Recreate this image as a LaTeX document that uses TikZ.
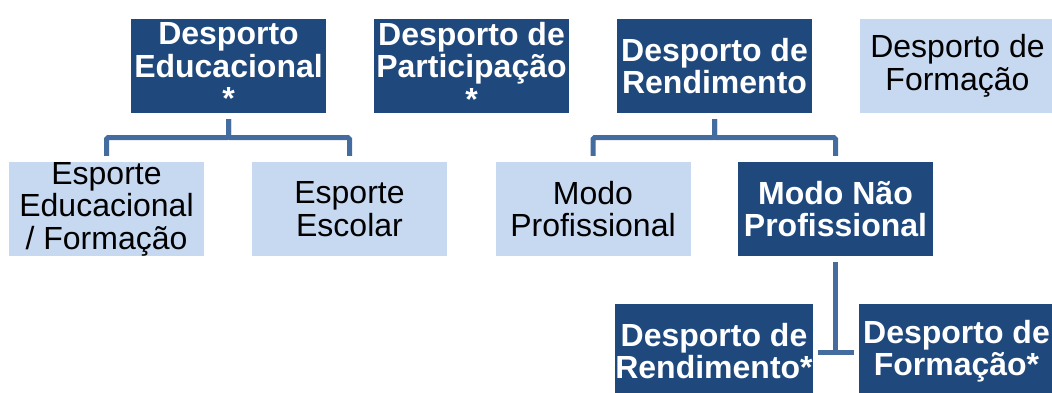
\documentclass[tikz,border=0pt]{standalone}
\usepackage{fontspec}
\setmainfont{Liberation Sans}
\definecolor{boxdark}{RGB}{31,73,125}
\definecolor{boxlight}{RGB}{198,217,241}
\definecolor{linkblue}{RGB}{68,108,158}
\tikzset{
  darkbox/.style={fill=boxdark, text=white, font=\fontsize{32}{32.5}\selectfont\bfseries,
    minimum width=195pt, minimum height=94pt, inner sep=0pt, align=center},
  lightbox/.style={fill=boxlight, text=black, font=\fontsize{32}{32.5}\selectfont,
    minimum width=195pt, minimum height=94pt, inner sep=0pt, align=center},
  link/.style={draw=linkblue, line width=5pt, rounded corners=1.5pt}
}

\begin{document}
\begin{tikzpicture}[x=1pt,y=-1pt]
				\useasboundingbox (0,0) rectangle (1052,392);
				\clip (0,0) rectangle (1052,392);
				
				% first row
				\node[darkbox] (edu) at (228.5,66) {Desporto\\Educacional\\*};
				\node[darkbox] (part) at (471.5,66) {Desporto de\\Participação\\*};
				\node[darkbox] (rend) at (714.5,66) {Desporto de\\Rendimento};
				\node[lightbox] (form) at (957.5,66) {Desporto de\\Formação};
				
				% second row
				\node[lightbox] (esped) at (106.5,209) {Esporte\\Educacional\\/ Formação};
				\node[lightbox] (escol) at (349.5,209) {Esporte\\Escolar};
				\node[lightbox] (prof) at (593,209) {Modo\\Profissional};
				\node[darkbox] (naoprof) at (835.5,209) {Modo Não\\Profissional};
				
				% third row
				\node[darkbox] (rend2) at (714,351) {Desporto de\\Rendimento*};
				\node[darkbox] (form2) at (956.5,351) {Desporto de\\Formação*};
				
				\draw[link] ([yshift=-6pt]edu.south) -- ++(0,18.5) -| ([yshift=6pt]esped.north);
				\draw[link] ([yshift=-6pt]edu.south) -- ++(0,18.5) -| ([yshift=6pt]escol.north);
				
				\draw[link] ([yshift=-6pt]rend.south) -- ++(0,18.5) -| ([yshift=6pt]prof.north);
				\draw[link] ([yshift=-6pt]rend.south) -- ++(0,18.5) -| ([yshift=6pt]naoprof.north);
				
				\draw[link, rounded corners=0pt] ([yshift=-6pt]naoprof.south) |- ([xshift=5pt,yshift=-1pt]rend2.east);
				\draw[link, rounded corners=0pt] ([yshift=-6pt]naoprof.south) |- ([xshift=-5pt,yshift=-1pt]form2.west);
			\end{tikzpicture}
\end{document}
